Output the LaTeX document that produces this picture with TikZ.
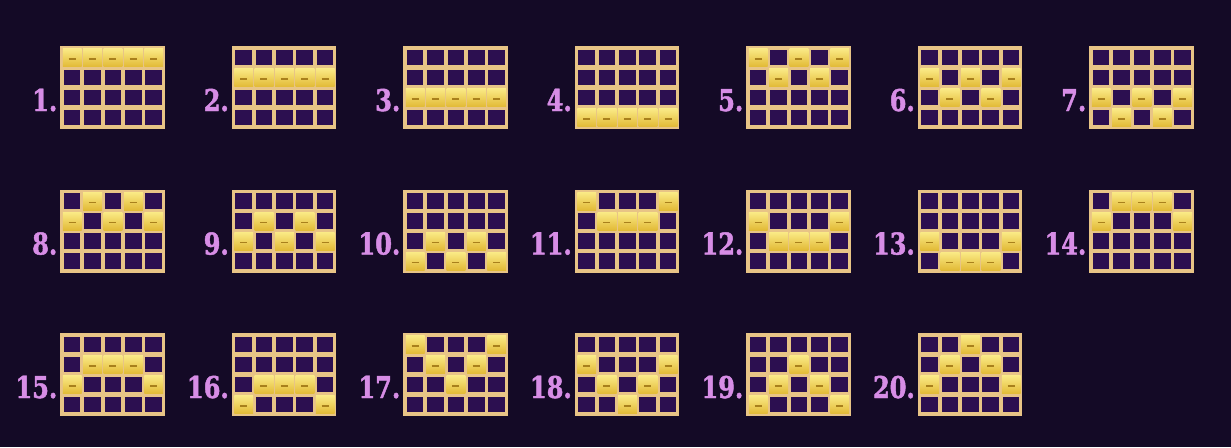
\documentclass[tikz,border=0pt]{standalone}
\usepackage{fontspec}
\setmainfont{Liberation Serif}
\newfontfamily\payfont[FakeStretch=0.8,FakeBold=1.5]{DejaVu Serif Bold}
\usetikzlibrary{calc}

\definecolor{bgdark}{HTML}{140A26}
\definecolor{gridgold}{HTML}{E8C486}
\definecolor{cellplum}{HTML}{2C0F50}
\definecolor{winhi}{HTML}{FAE985}
\definecolor{winlo}{HTML}{E2BA36}
\definecolor{winmark}{HTML}{A8801C}
\definecolor{lilac}{HTML}{D78DE6}

\tikzset{
  cellbox/.style={fill=cellplum},
  wincell/.style={top color=winhi, bottom color=winlo},
  dashmark/.style={draw=winmark, line width=1.6pt},
  paylabel/.style={text=lilac, font=\payfont\fontsize{30}{30}\selectfont,
    anchor=base east, inner sep=0pt},
}

\begin{document}
\begin{tikzpicture}[x=1pt,y=-1pt]
    % background
    \fill[bgdark] (0,0) rectangle (1231,447);

    % paylines: winning row per reel
    \foreach \n/\p in {1/{1,1,1,1,1}, 2/{2,2,2,2,2}, 3/{3,3,3,3,3}, 4/{4,4,4,4,4},
                       5/{1,2,1,2,1}, 6/{2,3,2,3,2}, 7/{3,4,3,4,3}, 8/{2,1,2,1,2},
                       9/{3,2,3,2,3}, 10/{4,3,4,3,4}, 11/{1,2,2,2,1}, 12/{2,3,3,3,2},
                       13/{3,4,4,4,3}, 14/{2,1,1,1,2}, 15/{3,2,2,2,3}, 16/{4,3,3,3,4},
                       17/{1,2,3,2,1}, 18/{2,3,4,3,2}, 19/{4,3,2,3,4}, 20/{3,2,1,2,3}}{
        \pgfmathsetmacro\gx{60+171.5*mod(\n-1,7)}
        \pgfmathsetmacro\gy{46+143.5*floor((\n-1)/7)}
        \coordinate (g\n) at (\gx,\gy);
        \fill[gridgold] (g\n) rectangle ++(104.5,83);
        \foreach \v [count=\j] in \p {
            \foreach \i in {1,...,4} {
                \coordinate (c) at ($(g\n)+(2.5+20.4*\j-20.4,2.5+20*\i-20)$);
                \ifnum\i=\v\relax
                    \path[wincell] ($(c)+(0.3,0.3)$) rectangle ++(18.8,17.8);
                    \draw[dashmark] ($(c)+(6,10.5)$) -- ++(7,0);
                \else
                    \fill[cellbox] ($(c)+(1.2,1.2)$) rectangle ++(16.6,15.6);
                \fi
            }
        }
        \node[paylabel] (lab\n) at ($(g\n)+(-2.5,65)$) {\n.};
    }
\end{tikzpicture}
\end{document}
